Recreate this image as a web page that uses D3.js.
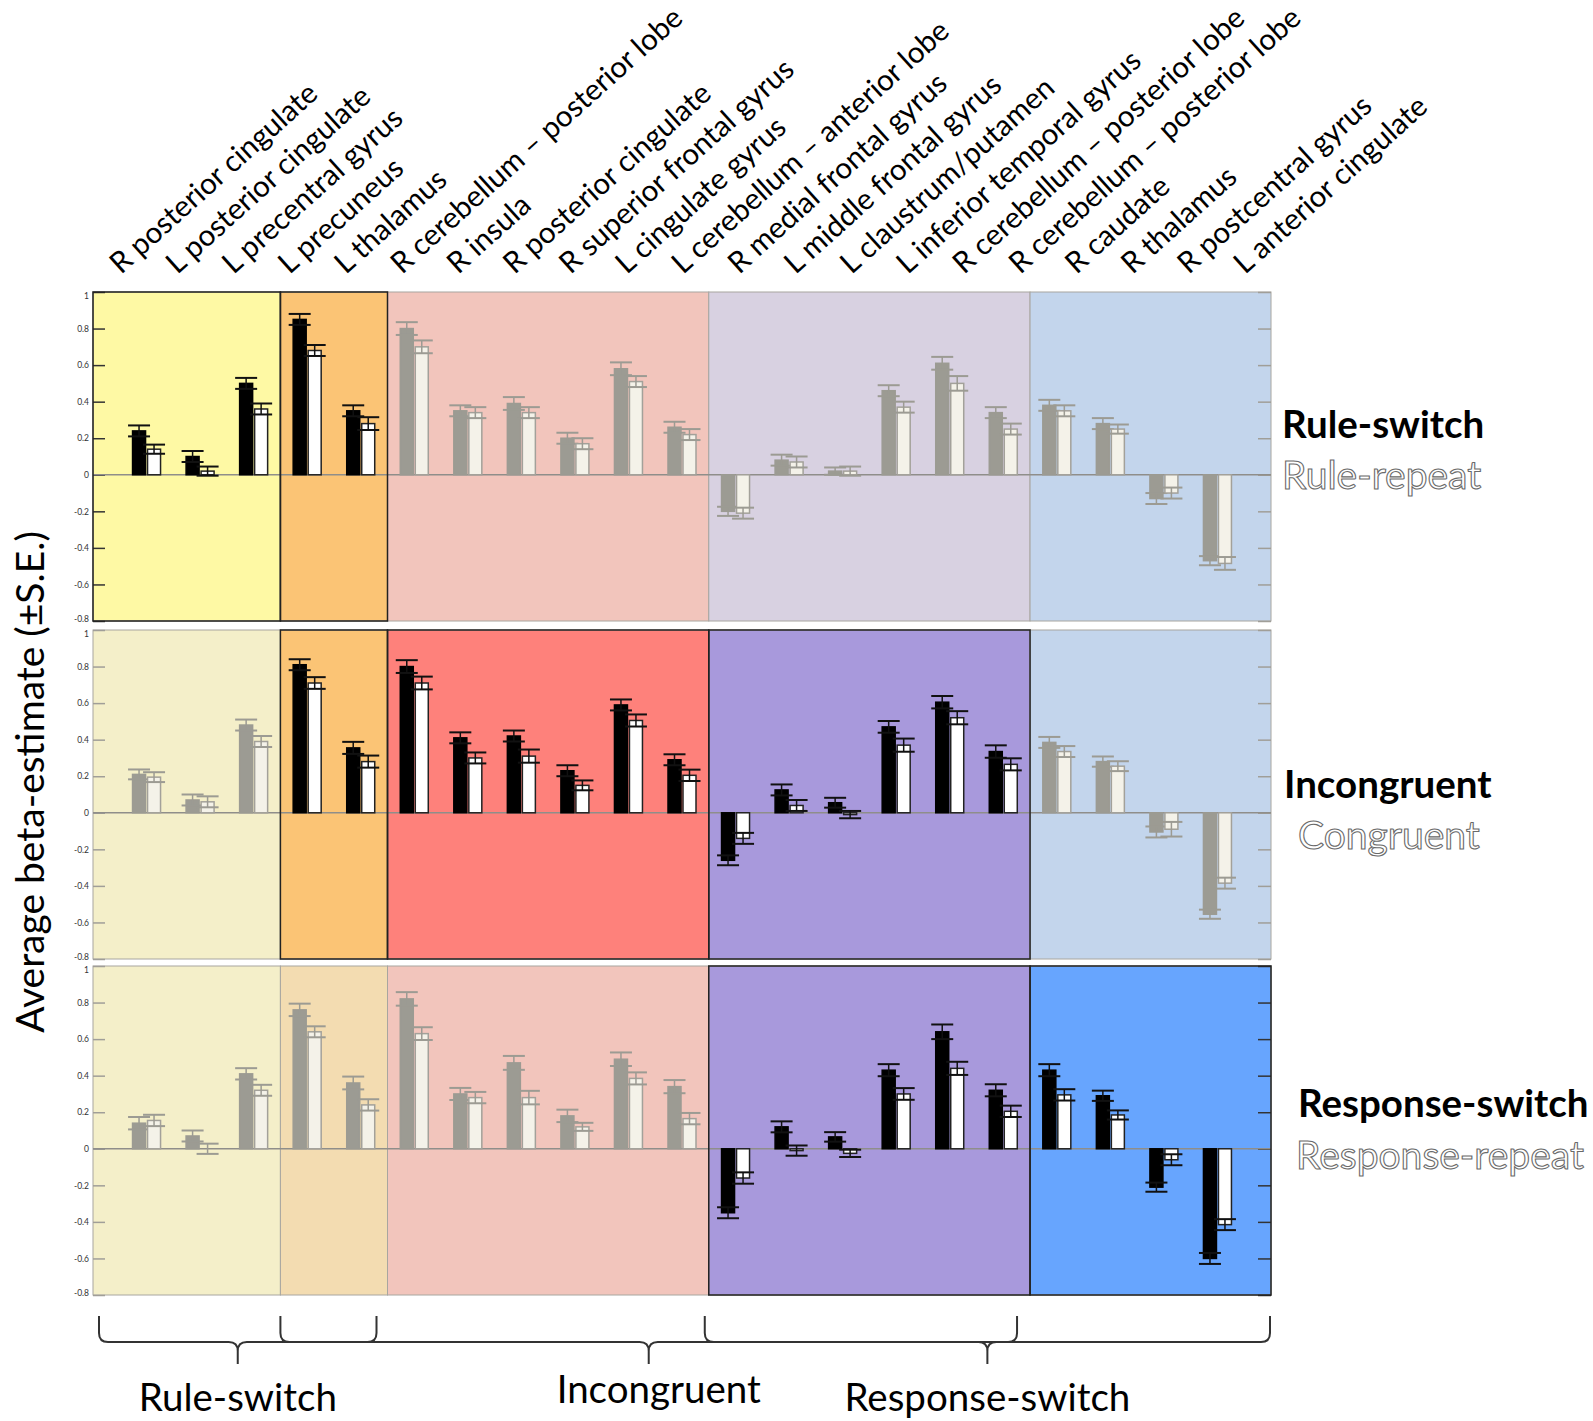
<!DOCTYPE html>
<html>
<head>
<meta charset="utf-8">
<script src="https://cdn.jsdelivr.net/npm/d3@7"></script>
<style>
  body { margin: 0; background: #fff; }
  text { font-family: Lato, "Open Sans", sans-serif; }
</style>
</head>
<body>
<div id="chart"></div>
<script>
"use strict";

// === DATA ===
const regions = [
  "R posterior cingulate", "L posterior cingulate", "L precentral gyrus",
  "L precuneus", "L thalamus",
  "R cerebellum – posterior lobe", "R insula", "R posterior cingulate",
  "R superior frontal gyrus", "L cingulate gyrus", "L cerebellum – anterior lobe",
  "R medial frontal gyrus", "L middle frontal gyrus", "L claustrum/putamen",
  "L inferior temporal gyrus", "R cerebellum – posterior lobe", "R cerebellum – posterior lobe",
  "R caudate", "R thalamus", "R postcentral gyrus", "L anterior cingulate"
];

// which coloured block each region sits in
const sectionOf = [0, 0, 0, 1, 1, 2, 2, 2, 2, 2, 2, 3, 3, 3, 3, 3, 3, 4, 4, 4, 4];

const switchLabels = ["Rule-switch", "Incongruent", "Response-switch"];
const repeatLabels = ["Rule-repeat", "Congruent", "Response-repeat"];

// blocks drawn in black in each row
const highlighted = [[0, 1], [1, 2, 3], [3, 4]];

const sectionColors = [
  ["#fef9a4", "#fbc475", "#f2c5bc", "#d8d1e1", "#c3d5ec"],
  ["#f4efc9", "#fbc475", "#fe817b", "#a899dc", "#c3d5ec"],
  ["#f4efc9", "#f3dcb1", "#f2c5bc", "#a899dc", "#67a5fe"]
];

const ruleSwitch   = [0.24, 0.10, 0.50, 0.85, 0.35, 0.80, 0.35, 0.39, 0.20, 0.58, 0.26, -0.20, 0.08, 0.02, 0.46, 0.61, 0.34, 0.38, 0.28, -0.13, -0.47];
const ruleSwitchSE = [0.03, 0.03, 0.03, 0.03, 0.03, 0.035, 0.03, 0.035, 0.03, 0.035, 0.03, 0.025, 0.03, 0.02, 0.03, 0.035, 0.03, 0.03, 0.03, 0.03, 0.025];
const ruleRepeat   = [0.14, 0.02, 0.36, 0.68, 0.28, 0.70, 0.34, 0.34, 0.17, 0.51, 0.22, -0.21, 0.07, 0.02, 0.37, 0.50, 0.25, 0.35, 0.25, -0.10, -0.485];
const ruleRepeatSE = [0.025, 0.025, 0.03, 0.03, 0.035, 0.035, 0.03, 0.03, 0.03, 0.03, 0.03, 0.03, 0.03, 0.025, 0.03, 0.04, 0.03, 0.03, 0.025, 0.03, 0.035];

const incongruent   = [0.21, 0.07, 0.48, 0.81, 0.355, 0.80, 0.41, 0.42, 0.23, 0.59, 0.29, -0.26, 0.125, 0.055, 0.47, 0.605, 0.335, 0.385, 0.28, -0.105, -0.555];
const incongruentSE = [0.027, 0.03, 0.03, 0.03, 0.033, 0.035, 0.03, 0.03, 0.03, 0.03, 0.03, 0.027, 0.03, 0.027, 0.032, 0.034, 0.034, 0.03, 0.028, 0.03, 0.025];
const congruent     = [0.195, 0.06, 0.39, 0.71, 0.28, 0.71, 0.30, 0.31, 0.15, 0.505, 0.205, -0.14, 0.04, -0.01, 0.37, 0.52, 0.265, 0.335, 0.255, -0.09, -0.385];
const congruentSE   = [0.027, 0.03, 0.03, 0.032, 0.033, 0.035, 0.03, 0.036, 0.027, 0.033, 0.031, 0.03, 0.03, 0.02, 0.036, 0.036, 0.033, 0.03, 0.027, 0.04, 0.03];

const respSwitch   = [0.14, 0.07, 0.41, 0.76, 0.36, 0.82, 0.30, 0.47, 0.18, 0.49, 0.34, -0.35, 0.12, 0.065, 0.43, 0.64, 0.32, 0.43, 0.29, -0.21, -0.60];
const respSwitchSE = [0.034, 0.03, 0.031, 0.034, 0.035, 0.037, 0.033, 0.038, 0.034, 0.037, 0.036, 0.03, 0.03, 0.026, 0.033, 0.04, 0.033, 0.033, 0.028, 0.025, 0.03];
const respRepeat   = [0.155, 0.0, 0.32, 0.64, 0.24, 0.63, 0.28, 0.28, 0.12, 0.385, 0.165, -0.16, -0.01, -0.025, 0.30, 0.44, 0.205, 0.295, 0.185, -0.06, -0.415];
const respRepeatSE = [0.031, 0.028, 0.03, 0.03, 0.031, 0.035, 0.031, 0.037, 0.022, 0.033, 0.031, 0.031, 0.028, 0.02, 0.032, 0.036, 0.031, 0.031, 0.025, 0.03, 0.03];

const yTicks = [-0.8, -0.6, -0.4, -0.2, 0, 0.2, 0.4, 0.6, 0.8, 1];

const rows = [
  { hi: ruleSwitch, hiSE: ruleSwitchSE, lo: ruleRepeat, loSE: ruleRepeatSE },
  { hi: incongruent, hiSE: incongruentSE, lo: congruent, loSE: congruentSE },
  { hi: respSwitch, hiSE: respSwitchSE, lo: respRepeat, loSE: respRepeatSE }
];

// === SVG SETUP ===
const W = 1593, H = 1421;
const left = 93, right = 1271;
const panelTops = [292, 630, 966];
const panelH = 329;

const svg = d3.select("#chart").append("svg")
  .attr("width", W)
  .attr("height", H);

// === SCALES ===
const x = d3.scaleBand()
  .domain(d3.range(regions.length))
  .range([left, right])
  .paddingInner(0)
  .paddingOuter(0.5);

const labelX = d3.scalePoint()
  .domain(d3.range(regions.length))
  .range([121, 1245]);

const barW = 13;

function sectionStart(s) {
  if (s === 0) return left;
  return x(sectionOf.indexOf(s));
}
function sectionEnd(s) {
  if (s === 4) return right;
  return x(sectionOf.lastIndexOf(s)) + x.bandwidth();
}

// === PANELS ===
rows.forEach((row, p) => {
  const top = panelTops[p];
  const y = d3.scaleLinear().domain([-0.8, 1]).range([top + panelH, top]);
  const g = svg.append("g");
  const isHi = i => highlighted[p].includes(sectionOf[i]);

  // background blocks
  d3.range(5).forEach(s => {
    g.append("rect")
      .attr("x", sectionStart(s))
      .attr("y", top)
      .attr("width", sectionEnd(s) - sectionStart(s))
      .attr("height", panelH)
      .attr("fill", sectionColors[p][s])
      .attr("stroke", "#a8a6a0")
      .attr("stroke-width", 1);
  });

  // left / right inner ticks
  const leftAxis = g.append("g")
    .attr("transform", `translate(${left},0)`)
    .call(d3.axisLeft(y).tickValues(yTicks).tickSize(-12).tickPadding(4)
      .tickFormat(d => String(+d.toFixed(1))));
  leftAxis.select(".domain").remove();
  leftAxis.selectAll("line")
    .attr("stroke", highlighted[p].includes(0) ? "#333" : "#a09e98")
    .attr("stroke-width", 1.5);
  leftAxis.selectAll("text")
    .attr("font-family", "'Liberation Sans', Arial, sans-serif")
    .attr("font-size", 8.5)
    .attr("fill", "#333")
    .attr("dy", d => d === 1 ? "0.75em" : d === -0.8 ? "0" : "0.32em");

  const rightAxis = g.append("g")
    .attr("transform", `translate(${right},0)`)
    .call(d3.axisRight(y).tickValues(yTicks).tickSize(-13).tickFormat(""));
  rightAxis.select(".domain").remove();
  rightAxis.selectAll("line")
    .attr("stroke", highlighted[p].includes(4) ? "#333" : "#a09e98")
    .attr("stroke-width", 1.5);

  // zero line
  g.append("line")
    .attr("x1", left).attr("x2", right)
    .attr("y1", y(0)).attr("y2", y(0))
    .attr("stroke", "#8f8e8a")
    .attr("stroke-width", 1.5);

  // bars
  const bars = d3.range(regions.length).flatMap(i => [
    { i, v: row.hi[i], se: row.hiSE[i], k: "hi", dx: -14 },
    { i, v: row.lo[i], se: row.loSE[i], k: "lo", dx: 1 }
  ]);

  const bg = g.selectAll(".bar").data(bars).enter().append("g").attr("class", "bar");

  bg.append("rect")
    .attr("x", d => x(d.i) + x.bandwidth() / 2 + d.dx)
    .attr("y", d => y(Math.max(0, d.v)))
    .attr("width", barW)
    .attr("height", d => Math.abs(y(d.v) - y(0)))
    .attr("fill", d => d.k === "hi" ? (isHi(d.i) ? "#000" : "#9c9b93") : (isHi(d.i) ? "#fff" : "#f4f2e9"))
    .attr("stroke", d => d.k === "hi" ? (isHi(d.i) ? "#000" : "#9c9b93") : (isHi(d.i) ? "#222" : "#a3a19a"))
    .attr("stroke-width", 1.5);

  // error bars
  const errColor = d => isHi(d.i) ? "#111" : "#9c9b93";
  const cx = d => x(d.i) + x.bandwidth() / 2 + d.dx + barW / 2;

  bg.append("line")
    .attr("x1", cx).attr("x2", cx)
    .attr("y1", d => y(d.v - d.se)).attr("y2", d => y(d.v + d.se))
    .attr("stroke", errColor).attr("stroke-width", 1.5);

  [1, -1].forEach(sign => {
    bg.append("line")
      .attr("x1", d => cx(d) - 11).attr("x2", d => cx(d) + 11)
      .attr("y1", d => y(d.v + sign * d.se)).attr("y2", d => y(d.v + sign * d.se))
      .attr("stroke", errColor).attr("stroke-width", 2);
  });

  // dark borders of the highlighted blocks
  highlighted[p].forEach(s => {
    g.append("rect")
      .attr("x", sectionStart(s))
      .attr("y", top)
      .attr("width", sectionEnd(s) - sectionStart(s))
      .attr("height", panelH)
      .attr("fill", "none")
      .attr("stroke", "#222")
      .attr("stroke-width", 1.5);
  });

  // condition labels on the right
  const labelYs = [[438, 489], [798, 849], [1117, 1169]];
  const labelXs = [[1282, 1282], [1284, 1298], [1298, 1296]];
  svg.append("text")
    .attr("x", labelXs[p][0]).attr("y", labelYs[p][0])
    .attr("font-size", 38.5)
    .attr("font-weight", "bold")
    .attr("fill", "#000")
    .text(switchLabels[p]);
  svg.append("text")
    .attr("x", labelXs[p][1]).attr("y", labelYs[p][1])
    .attr("font-size", 39)
    .attr("fill", "#fff")
    .attr("stroke", "#6a6a6a")
    .attr("stroke-width", 1.1)
    .text(repeatLabels[p]);
});

// === REGION LABELS (top, rotated) ===
svg.selectAll(".region")
  .data(d3.range(regions.length))
  .enter().append("text")
  .attr("class", "region")
  .attr("transform", i => `translate(${labelX(i)},275) rotate(-42)`)
  .attr("font-size", 29.5)
  .attr("fill", "#000")
  .text(i => regions[i]);

// === Y AXIS TITLE ===
svg.append("text")
  .attr("transform", "translate(44,782) rotate(-90)")
  .attr("text-anchor", "middle")
  .attr("font-size", 39)
  .text("Average beta-estimate (±S.E.)");

// === BOTTOM BRACES ===
function bracePath(x0, x1, yTop, yMid, yTip) {
  const r = 9, xm = (x0 + x1) / 2;
  return `M${x0},${yTop} L${x0},${yMid - r} Q${x0},${yMid} ${x0 + r},${yMid} ` +
    `L${xm - r},${yMid} Q${xm},${yMid} ${xm},${yMid + r} L${xm},${yTip} ` +
    `M${xm},${yMid + r} Q${xm},${yMid} ${xm + r},${yMid} ` +
    `L${x1 - r},${yMid} Q${x1},${yMid} ${x1},${yMid - r} L${x1},${yTop}`;
}

const braces = [
  { x0: left + 6, x1: sectionEnd(1) - 11, label: switchLabels[0], ty: 1411, dx: 0 },
  { x0: sectionStart(1), x1: sectionEnd(3) - 13, label: switchLabels[1], ty: 1403, dx: 10 },
  { x0: sectionStart(3) - 4, x1: right - 1, label: switchLabels[2], ty: 1411, dx: 0 }
];

braces.forEach(b => {
  svg.append("path")
    .attr("d", bracePath(b.x0, b.x1, 1316, 1342, 1364))
    .attr("fill", "none")
    .attr("stroke", "#333")
    .attr("stroke-width", 2);
  svg.append("text")
    .attr("x", (b.x0 + b.x1) / 2 + b.dx)
    .attr("y", b.ty)
    .attr("text-anchor", "middle")
    .attr("font-size", 38.5)
    .text(b.label);
});
</script>
</body>
</html>
